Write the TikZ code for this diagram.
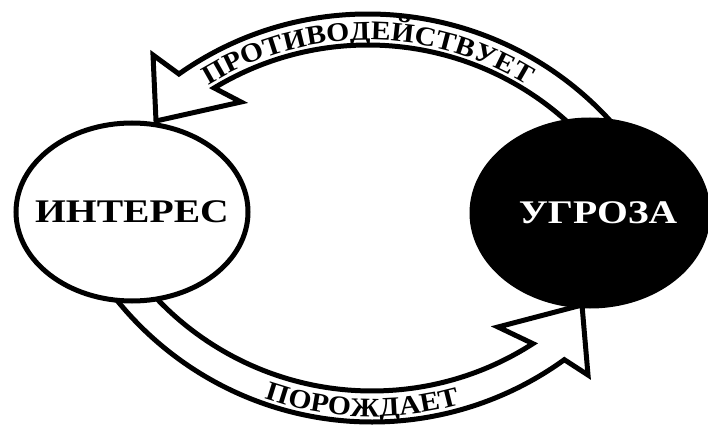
\documentclass[tikz,border=0pt]{standalone}
\usepackage{fontspec}
\setmainfont{Liberation Serif}
\newfontfamily\widefont[FakeStretch=1.2]{Liberation Serif}
\newfontfamily\bandfont[FakeStretch=1.1]{Liberation Serif}
\usetikzlibrary{shapes.geometric,calc,decorations.text}
\begin{document}
\begin{tikzpicture}[x=1pt,y=1pt,
  band/.style={draw=black, fill=white, line width=5pt, line join=miter, miter limit=10},
  blob/.style={ellipse, line width=5pt, inner sep=0pt, minimum width=232pt, minimum height=178pt},
  bigtext/.style={font=\widefont\bfseries\fontsize{33}{36}\selectfont, inner sep=0pt},
]
\useasboundingbox (0,0) rectangle (708,426);
\coordinate (CT) at (368,84);
\coordinate (CB) at (372,332);
% top arrow (ПРОТИВОДЕЙСТВУЕТ)
\coordinate (tb1) at (153,371);
\coordinate (ttip) at (156,305);
\coordinate (tb2) at (241,324);
\draw[band] ($(CT)+(38:328)$) arc[start angle=38, end angle=125.2, radius=328]
  -- (tb1) -- (ttip) -- (tb2) -- ($(CT)+(121.2:297)$)
  arc[start angle=121.2, end angle=42, radius=297] -- cycle;
% bottom arrow (ПОРОЖДАЕТ)
\coordinate (bb1) at (588,51);
\coordinate (btip) at (582,121);
\coordinate (bb2) at (498,99);
\draw[band] ($(CB)+(-150:328)$) arc[start angle=-150, end angle=-54.1, radius=328]
  -- (bb1) -- (btip) -- (bb2) -- ($(CB)+(-57.2:297)$)
  arc[start angle=-57.2, end angle=-150, radius=297] -- cycle;
% band labels
\path[decorate, decoration={text along path, text align=center,
  text={|\bandfont\bfseries\fontsize{27}{30}\selectfont|ПРОТИВОДЕЙСТВУЕТ}}]
  ($(CT)+(150:302)$) arc[start angle=150, end angle=30, radius=302];
\path[decorate, decoration={text along path, text align=center,
  text={|\bandfont\bfseries\fontsize{27}{30}\selectfont|ПОРОЖДАЕТ}}]
  ($(CB)+(-131.8:322.5)$) arc[start angle=-131.8, end angle=-51.8, radius=322.5];
% ellipses
\node[blob, draw=black, fill=white] (interes) at (132,214) {};
\node[blob, draw=black, fill=black, minimum width=236pt, minimum height=186pt] (ugroza) at (590,213) {};
\node[bigtext, text=black] (interesT) at (interes.center) {ИНТЕРЕС};
\node[bigtext, text=white] (ugrozaT) at ([xshift=8pt]ugroza.center) {УГРОЗА};
\end{tikzpicture}
\end{document}
